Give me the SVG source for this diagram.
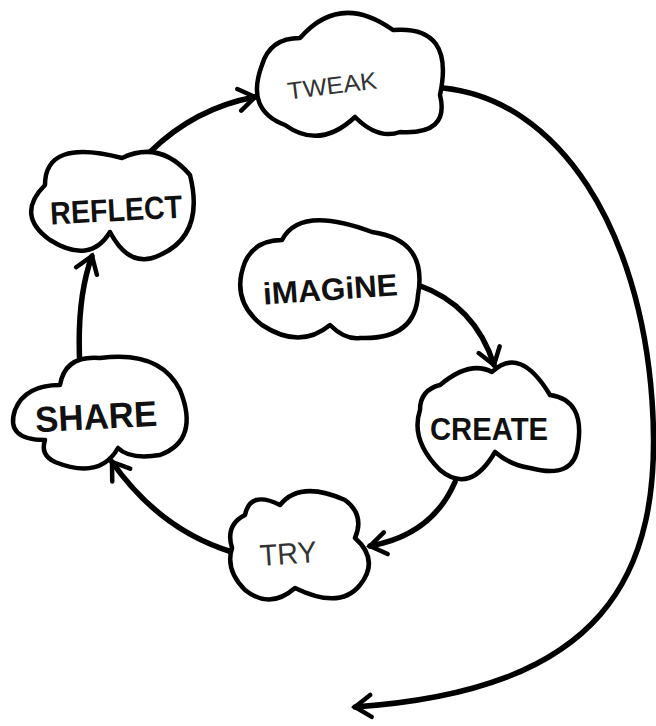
<svg xmlns="http://www.w3.org/2000/svg" width="656" height="726" viewBox="0 0 656 726">
<defs>
<style>
.cloud{fill:#fff;stroke:#000;stroke-width:4.5;stroke-linejoin:round}
.conn{fill:none;stroke:#000;stroke-width:5.5;stroke-linecap:round}
.bold{font-family:"Liberation Sans",Arial,sans-serif;font-weight:bold;fill:#111;text-anchor:middle}
.thin{font-family:"Liberation Sans",Arial,sans-serif;font-weight:normal;fill:#333;text-anchor:middle}
</style>
<marker id="ah" markerUnits="userSpaceOnUse" markerWidth="40" markerHeight="40" viewBox="-20 -20 40 40" refX="0" refY="0" orient="auto">
<path d="M-16,-11 L0,0 L-16,11" fill="none" stroke="#000" stroke-width="4.5" stroke-linecap="round"/>
</marker>
</defs>
<rect width="656" height="726" fill="#fff"/>
<g id="connectors">
<path class="conn" d="M150,152 Q195,108 255,97" marker-end="url(#ah)"/>
<path class="conn" d="M80,368 Q76,300 92,256" marker-end="url(#ah)"/>
<path class="conn" d="M232,552 Q160,530 112,462" marker-end="url(#ah)"/>
<path class="conn" d="M455,482 Q432,535 370,546" marker-end="url(#ah)"/>
<path class="conn" d="M418,285 Q475,305 494,365" marker-end="url(#ah)"/>
<path class="conn" d="M443,88 C560,100 640,230 652,400 C665,580 600,690 355,707" marker-end="url(#ah)"/>
</g>
<g id="tweak">
<path class="cloud" d="M300,38 Q340,-8 393,30 Q455,25 440,95 Q450,135 400,132 Q378,140 355,117 Q320,150 285,125 Q245,110 262,65 Q270,38 300,38 Z"/>
<text class="thin" x="332" y="94" font-size="24" textLength="90" lengthAdjust="spacingAndGlyphs" transform="rotate(-7 332 84)">TWEAK</text>
</g>
<g id="reflect">
<path class="cloud" d="M45,185 Q45,138 122,158 Q160,140 190,175 Q205,235 160,255 Q130,270 110,232 Q90,265 50,240 Q15,215 45,185 Z"/>
<text class="bold" x="116" y="221" font-size="32" textLength="132" lengthAdjust="spacingAndGlyphs" transform="rotate(-3 116 208)">REFLECT</text>
</g>
<g id="imagine">
<path class="cloud" d="M282,240 Q300,205 372,232 Q428,240 418,295 Q415,340 360,338 Q345,340 330,325 Q300,350 262,325 Q230,300 245,262 Q255,240 282,240 Z"/>
<text class="bold" x="330" y="300" font-size="31" textLength="135" lengthAdjust="spacingAndGlyphs" transform="rotate(-4 330 285)">iMAGiNE</text>
</g>
<g id="share">
<path class="cloud" d="M60,385 Q65,355 100,358 Q160,350 180,390 Q200,440 160,455 Q130,460 118,448 Q100,480 55,462 Q40,455 45,440 Q5,440 15,410 Q25,385 60,385 Z"/>
<text class="bold" x="96" y="429" font-size="36" textLength="122" lengthAdjust="spacingAndGlyphs" transform="rotate(-3 96 414)">SHARE</text>
</g>
<g id="create">
<path class="cloud" d="M440,385 Q470,360 492,372 Q520,345 550,395 Q585,400 578,445 Q575,480 530,468 Q510,465 495,452 Q470,495 440,470 Q410,440 420,410 Q420,390 440,385 Z"/>
<text class="bold" x="489" y="440" font-size="31" textLength="118" lengthAdjust="spacingAndGlyphs">CREATE</text>
</g>
<g id="try">
<path class="cloud" d="M245,515 Q250,490 280,505 Q300,480 345,500 Q365,515 355,538 Q380,560 360,585 Q340,610 295,588 Q270,610 245,590 Q225,570 232,548 Q225,525 245,515 Z"/>
<text class="thin" x="288" y="564" font-size="30" textLength="57" lengthAdjust="spacingAndGlyphs" transform="rotate(-4 288 552)">TRY</text>
</g>
</svg>
